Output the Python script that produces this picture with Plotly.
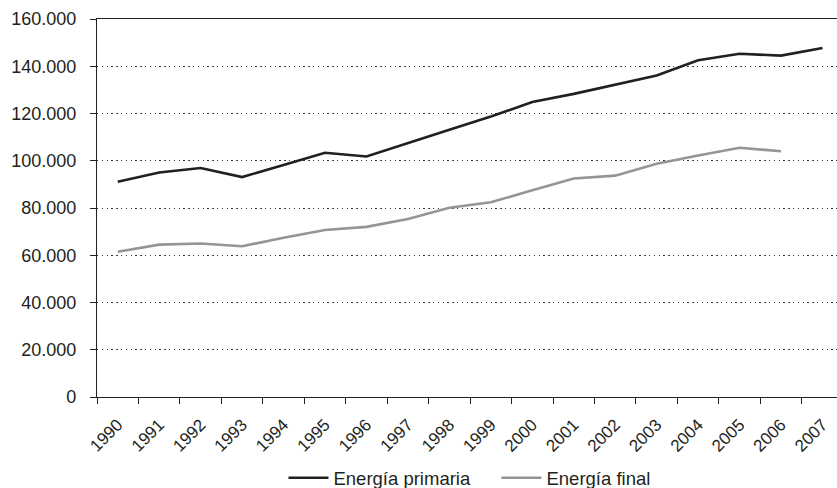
import plotly.graph_objects as go

# Years on the category axis
years = ["1990", "1991", "1992", "1993", "1994", "1995", "1996", "1997", "1998",
         "1999", "2000", "2001", "2002", "2003", "2004", "2005", "2006", "2007"]

# Primary energy consumption (ktep)
energia_primaria = [91100, 95000, 96900, 93100, 98200, 103400, 101800, 107300, 113100,
                    118700, 124900, 128300, 132100, 136100, 142500, 145300, 144500, 147700]

# Final energy consumption (ktep); no 2007 value
energia_final = [61500, 64500, 65000, 63800, 67400, 70700, 72000, 75300, 80100,
                 82400, 87500, 92500, 93700, 98700, 102200, 105500, 104000, None]

y_ticks = [0, 20000, 40000, 60000, 80000, 100000, 120000, 140000, 160000]

INK = "#231f20"
GREY = "#939598"
FONT = "Liberation Sans, Arial, sans-serif"

fig = go.Figure()
fig.add_trace(go.Scatter(x=years, y=energia_primaria, mode="lines",
                         name="Energía primaria",
                         line=dict(color=INK, width=2.6)))
fig.add_trace(go.Scatter(x=years, y=energia_final, mode="lines",
                         name="Energía final",
                         line=dict(color=GREY, width=2.6)))

fig.update_layout(
    width=837, height=488,
    margin=dict(l=97, r=0, t=19, b=91, pad=0, autoexpand=False),
    paper_bgcolor="white", plot_bgcolor="white",
    separators=",.",
    font=dict(family=FONT, color=INK, size=17),
    showlegend=True,
    legend=dict(orientation="h", x=0.252, xanchor="left",
                yref="container", y=0.02, yanchor="middle",
                font=dict(size=18.5, color=INK),
                itemwidth=40, entrywidth=158, entrywidthmode="pixels",
                bgcolor="rgba(0,0,0,0)", tracegroupgap=0),
)

fig.update_xaxes(
    type="category", range=[-0.5, 17.35], automargin=False,
    tickson="boundaries", ticks="outside", ticklen=6, tickwidth=1.2,
    tickcolor=INK, tickangle=-45, tickfont=dict(size=17, color=INK),
    ticklabelstandoff=10,
    showline=True, linecolor=INK, linewidth=1.3, mirror=True,
    showgrid=False, zeroline=False,
)

fig.update_yaxes(
    range=[0, 160000], tickmode="array", tickvals=y_ticks, tickformat=",d",
    automargin=False,
    ticks="outside", ticklen=6, tickwidth=1.2, tickcolor=INK,
    tickfont=dict(size=18, color=INK), ticklabelstandoff=10,
    showline=True, linecolor=INK, linewidth=1.3,
    showgrid=True, gridcolor="#3a3a3a", gridwidth=1, griddash="1.4px,3.4px",
    zeroline=False,
)

fig.write_html("out.html")
